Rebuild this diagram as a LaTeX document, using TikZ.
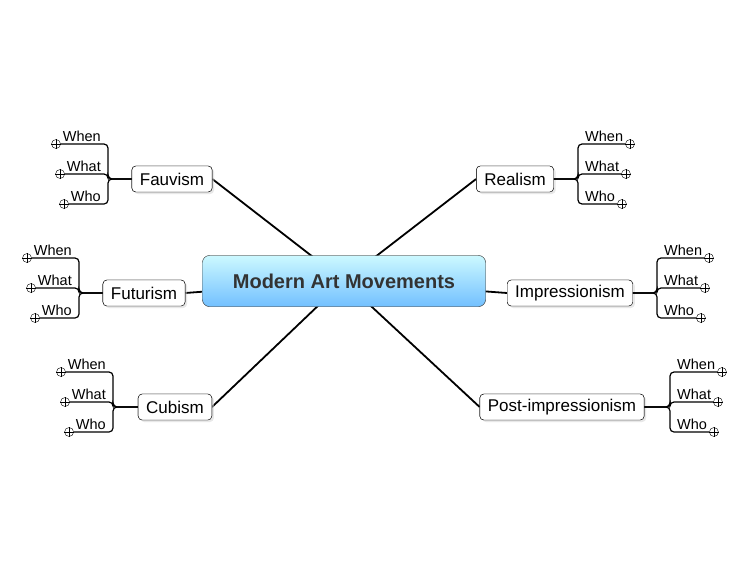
\documentclass[tikz,border=0pt]{standalone}
\usepackage{fontspec}
\setmainfont{Liberation Sans}
\usetikzlibrary{positioning,shadows}

\tikzset{
    central/.style = {draw=black!70, rounded corners=7pt, top color=blue!12!cyan!20, bottom color=blue!45!cyan!55,
        minimum width=283pt, minimum height=51pt, font=\fontsize{20}{22}\selectfont\bfseries, text=black!80},
    topic/.style = {draw=black, rounded corners=4pt, fill=white, inner xsep=8pt, minimum height=26pt,
        font=\fontsize{17}{19}\selectfont, drop shadow={shadow xshift=2pt, shadow yshift=-2pt, fill=black!12}},
    leaf/.style = {inner sep=1pt, font=\fontsize{14.5}{16}\selectfont},
    plus/.style = {circle, draw=black, fill=white, inner sep=0pt, minimum size=9pt},
    mainline/.style = {line width=1.8pt},
    leafline/.style = {line width=1.2pt, rounded corners=4pt},
}

% three leaves: #1 topic name, #2 bracket x, #3 +1 right / -1 left
\newcommand{\leaves}[3]{
    \path (#1) coordinate (#1c);
    \foreach \lbl/\dy [count=\i] in {When/-35, What/-5, Who/25} {
        \ifnum#3>0
            \node[leaf, anchor=south west] (#1l\i) at ([xshift=#2pt]0,0 |- {$(#1c)+(0,\dy)+(0,1)$}) {\phantom{}};
        \fi
    }
}

\begin{document}
\begin{tikzpicture}[x=1pt, y=-1pt]
    \useasboundingbox (0,0) rectangle (750,563);
    \node[central] (mam) at (344,281) {Modern Art Movements};
    \node[topic] (fauv) at (172,179) {Fauvism};
    \node[topic] (real) at (515,179) {Realism};
    \node[topic] (futu) at (144,293) {Futurism};
    \node[topic] (impr) at (570,293) {Impressionism};
    \node[topic] (cubi) at (175,407) {Cubism};
    \node[topic] (post) at (562,407) {Post-impressionism};
    \begin{scope}[on background layer/.style={}]
    \end{scope}
    % main branches, behind the centre
    \foreach \t/\a in {fauv/east, real/west, futu/east, impr/west, cubi/east, post/west}
        \draw[mainline] (344,281) -- (\t.\a);
    \node[central] at (344,281) {Modern Art Movements};
    % topics drawn over the lines
    \node[topic] at (172,179) {Fauvism};
    \node[topic] at (515,179) {Realism};
    \node[topic] at (144,293) {Futurism};
    \node[topic] at (570,293) {Impressionism};
    \node[topic] at (175,407) {Cubism};
    \node[topic] at (562,407) {Post-impressionism};
    % left side leaves
    \foreach \t/\bx/\cy in {fauv/108/179, futu/79/293, cubi/113/407} {
        \foreach \lbl/\dy [count=\i] in {When/-35, What/-5, Who/25} {
            \node[leaf, anchor=south east] (\t l\i) at (\bx-6,\cy+\dy-1) {\lbl};
            \node[plus, left=1pt of \t l\i.south west, yshift=-1pt] (\t p\i) {};
            \draw[leafline] (\t.west) -- (\bx,\cy) |- (\t p\i.east);
            \draw (\t p\i.west) -- (\t p\i.east) (\t p\i.north) -- (\t p\i.south);
        }
    }
    % right side leaves
    \foreach \t/\bx/\cy in {real/578/179, impr/657/293, post/670/407} {
        \foreach \lbl/\dy [count=\i] in {When/-35, What/-5, Who/25} {
            \node[leaf, anchor=south west] (\t l\i) at (\bx+6,\cy+\dy-1) {\lbl};
            \node[plus, right=1pt of \t l\i.south east, yshift=-1pt] (\t p\i) {};
            \draw[leafline] (\t.east) -- (\bx,\cy) |- (\t p\i.west);
            \draw (\t p\i.west) -- (\t p\i.east) (\t p\i.north) -- (\t p\i.south);
        }
    }
\end{tikzpicture}
\end{document}
